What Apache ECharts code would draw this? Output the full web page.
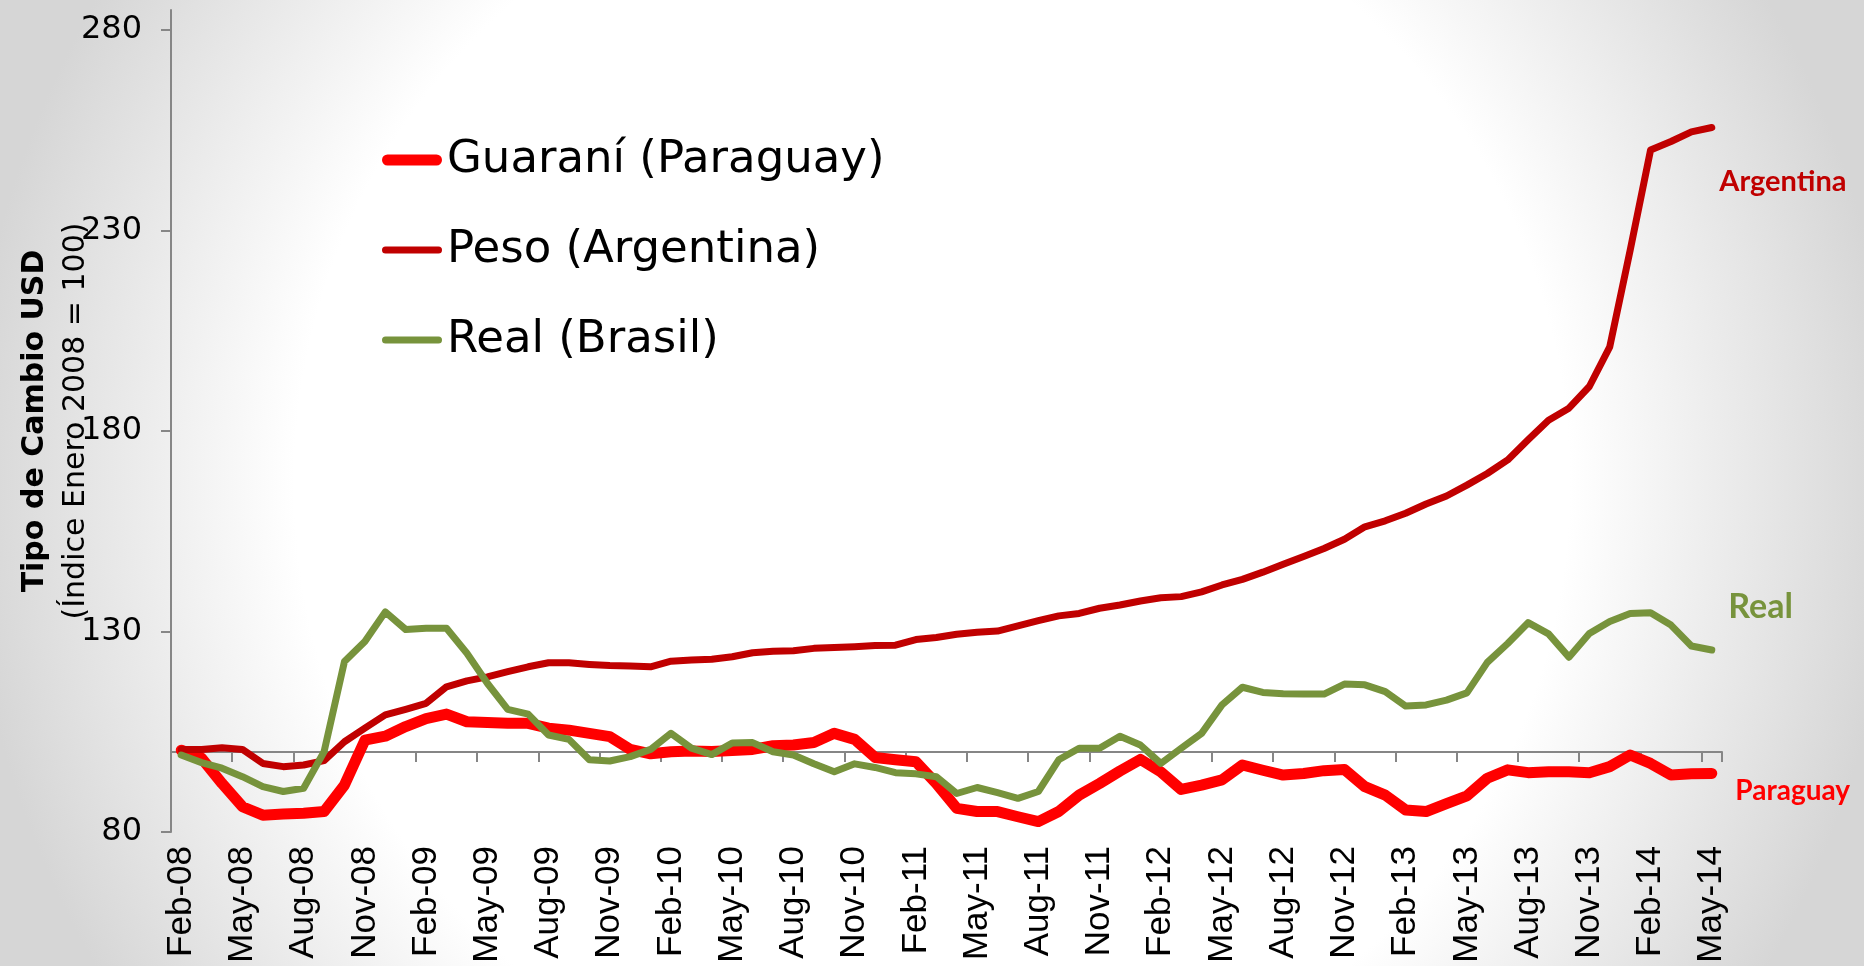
<!DOCTYPE html>
<html>
<head>
<meta charset="UTF-8">
<title>Tipo de Cambio USD</title>
<script src="https://cdn.jsdelivr.net/npm/echarts@6/dist/echarts.min.js"></script>
<style>
	* {
		margin: 0;
		padding: 0;
	}
	#main {
		width: 1864px;
		height: 966px;
	}
</style>
</head>
<body>
<div id="main"></div>
<script>
var meses = [
	'Feb-08', 'Mar-08', 'Apr-08', 'May-08', 'Jun-08', 'Jul-08', 'Aug-08', 'Sep-08', 'Oct-08', 'Nov-08', 'Dec-08',
	'Jan-09', 'Feb-09', 'Mar-09', 'Apr-09', 'May-09', 'Jun-09', 'Jul-09', 'Aug-09', 'Sep-09', 'Oct-09', 'Nov-09', 'Dec-09',
	'Jan-10', 'Feb-10', 'Mar-10', 'Apr-10', 'May-10', 'Jun-10', 'Jul-10', 'Aug-10', 'Sep-10', 'Oct-10', 'Nov-10', 'Dec-10',
	'Jan-11', 'Feb-11', 'Mar-11', 'Apr-11', 'May-11', 'Jun-11', 'Jul-11', 'Aug-11', 'Sep-11', 'Oct-11', 'Nov-11', 'Dec-11',
	'Jan-12', 'Feb-12', 'Mar-12', 'Apr-12', 'May-12', 'Jun-12', 'Jul-12', 'Aug-12', 'Sep-12', 'Oct-12', 'Nov-12', 'Dec-12',
	'Jan-13', 'Feb-13', 'Mar-13', 'Apr-13', 'May-13', 'Jun-13', 'Jul-13', 'Aug-13', 'Sep-13', 'Oct-13', 'Nov-13', 'Dec-13',
	'Jan-14', 'Feb-14', 'Mar-14', 'Apr-14', 'May-14'
];

// Guaraní (Paraguay)
var guarani = [
	100.4, 98.4, 92.1, 86.3, 84.2, 84.5, 84.7, 85.1, 91.7, 102.9, 103.9,
	106.3, 108.3, 109.4, 107.5, 107.3, 107.1, 107.1, 105.9, 105.4, 104.6, 103.8, 100.6,
	99.5, 100.0, 100.2, 100.1, 100.3, 100.6, 101.5, 101.7, 102.3, 104.6, 103.1, 98.6,
	98.0, 97.5, 92.1, 85.9, 85.1, 85.1, 83.8, 82.6, 85.1, 89.2, 92.1, 95.2,
	98.1, 95.0, 90.6, 91.7, 93.0, 96.7, 95.4, 94.2, 94.6, 95.3, 95.6, 91.3,
	89.2, 85.5, 85.1, 87.1, 89.0, 93.4, 95.5, 94.8, 95.0, 95.0, 94.8, 96.3,
	99.2, 97.1, 94.2, 94.5, 94.6
];

// Peso (Argentina)
var peso = [
	100.6, 100.6, 101.0, 100.6, 97.1, 96.3, 96.7, 97.8, 102.5, 105.9, 109.2,
	110.6, 112.1, 116.2, 117.7, 118.7, 120.0, 121.2, 122.2, 122.2, 121.8, 121.5, 121.4,
	121.2, 122.6, 122.9, 123.1, 123.7, 124.7, 125.1, 125.2, 125.8, 126.0, 126.2, 126.5,
	126.6, 128.0, 128.5, 129.3, 129.8, 130.1, 131.4, 132.7, 133.9, 134.5, 135.8, 136.6,
	137.6, 138.4, 138.7, 139.9, 141.6, 143.0, 144.8, 146.8, 148.7, 150.7, 153.0, 156.1,
	157.6, 159.5, 161.8, 163.8, 166.5, 169.4, 172.8, 177.8, 182.7, 185.7, 191.1, 201.0,
	225.1, 250.1, 252.2, 254.6, 255.7
];

// Real (Brasil)
var real = [
	99.2, 97.3, 95.9, 93.8, 91.3, 90.1, 90.9, 100.0, 122.5, 127.5, 134.9,
	130.5, 130.8, 130.8, 124.6, 117.1, 110.6, 109.4, 104.2, 103.1, 98.0, 97.7, 98.8,
	100.6, 104.6, 100.9, 99.3, 102.2, 102.3, 100.0, 99.2, 97.0, 95.0, 97.0, 96.1,
	94.8, 94.5, 93.8, 89.6, 91.1, 89.8, 88.4, 90.1, 98.0, 100.9, 100.9, 103.9,
	101.7, 97.1, 100.9, 104.6, 111.7, 116.1, 114.8, 114.5, 114.4, 114.4, 116.9, 116.7,
	115.0, 111.4, 111.7, 112.9, 114.7, 122.3, 127.0, 132.2, 129.4, 123.6, 129.5, 132.5,
	134.5, 134.7, 131.6, 126.4, 125.4
];

var yTicks = [80, 130, 180, 230, 280];
var nombres = ['Guaraní (Paraguay)', 'Peso (Argentina)', 'Real (Brasil)'];
var etiquetas = ['Paraguay', 'Argentina', 'Real'];
var colores = ['#FF0000', '#C00000', '#77933C'];

var iconGrueso = 'path://M5.5,0 L54.5,0 A5.5,5.5 0 0 1 54.5,11 L5.5,11 A5.5,5.5 0 0 1 5.5,0 Z';
var iconFino = 'path://M3.5,0 L56.5,0 A3.5,3.5 0 0 1 56.5,7 L3.5,7 A3.5,3.5 0 0 1 3.5,0 Z';
var gris = '#868686';

function etiquetaFinal(serie, idx, offset, size) {
	var last = serie.length - 1;
	return {
		symbol: 'circle',
		symbolSize: 1,
		silent: true,
		itemStyle: { color: 'transparent' },
		label: {
			show: true,
			position: 'right',
			distance: 0,
			offset: offset,
			formatter: etiquetas[idx],
			color: colores[idx],
			fontFamily: 'Lato',
			fontWeight: 'bold',
			fontSize: size
		},
		data: [{ coord: [meses[last], serie[last]] }]
	};
}

var myChart = echarts.init(document.getElementById('main'));

var option = {
	animation: false,
	backgroundColor: {
		type: 'radial',
		x: 0.5,
		y: 0.5,
		r: 1,
		colorStops: [
			{ offset: 0, color: '#ffffff' },
			{ offset: 0.66, color: '#ffffff' },
			{ offset: 1, color: '#d6d6d6' }
		]
	},
	grid: {
		left: 171,
		right: 142,
		top: 10,
		bottom: 134,
		containLabel: false,
		outerBoundsMode: 'none'
	},
	legend: {
		orient: 'vertical',
		left: 382,
		top: 135,
		padding: 0,
		itemGap: 40,
		itemWidth: 60,
		itemHeight: 11,
		selectedMode: false,
		itemStyle: { borderWidth: 0 },
		textStyle: {
			fontFamily: 'DejaVu Sans',
			fontSize: 45,
			lineHeight: 50,
			color: '#000'
		},
		data: [
			{ name: nombres[0], icon: iconGrueso },
			{ name: nombres[1], icon: iconFino },
			{ name: nombres[2], icon: iconFino }
		]
	},
	xAxis: [{
		type: 'category',
		data: meses,
		boundaryGap: true,
		axisLine: { show: false },
		axisTick: { show: false },
		splitLine: { show: false },
		axisLabel: {
			interval: 2,
			rotate: 90,
			margin: 14,
			fontFamily: 'Liberation Sans',
			fontSize: 35,
			color: '#000'
		}
	}, {
		type: 'category',
		data: meses,
		boundaryGap: true,
		position: 'bottom',
		offset: -80,
		axisLine: { show: true, onZero: false, lineStyle: { color: gris, width: 2 } },
		axisTick: { show: true, interval: 2, length: 10, lineStyle: { color: gris, width: 2 } },
		axisLabel: { show: false },
		splitLine: { show: false }
	}],
	yAxis: {
		type: 'value',
		min: 80,
		max: 285,
		interval: 50,
		axisLine: { show: true, onZero: false, lineStyle: { color: gris, width: 2 } },
		axisTick: { show: true, length: 10, customValues: yTicks, lineStyle: { color: gris, width: 2 } },
		splitLine: { show: false },
		axisLabel: {
			customValues: yTicks,
			margin: 29,
			fontFamily: 'DejaVu Sans',
			fontSize: 32,
			color: '#000'
		},
		name: '{b|Tipo de Cambio USD}\n{n|(Índice Enero 2008 = 100)}',
		nameLocation: 'middle',
		nameGap: 74,
		nameMoveOverlap: false,
		nameTextStyle: {
			align: 'center',
			rich: {
				b: { fontFamily: 'DejaVu Sans', fontWeight: 'bold', fontSize: 30, lineHeight: 41, color: '#000' },
				n: { fontFamily: 'DejaVu Sans', fontSize: 30, lineHeight: 41, color: '#000' }
			}
		}
	},
	series: [{
		name: nombres[0],
		type: 'line',
		data: guarani,
		symbol: 'none',
		color: colores[0],
		lineStyle: { color: colores[0], width: 11, cap: 'round', join: 'round' },
		markPoint: etiquetaFinal(guarani, 0, [23, 18], 28)
	}, {
		name: nombres[1],
		type: 'line',
		data: peso,
		symbol: 'none',
		color: colores[1],
		lineStyle: { color: colores[1], width: 7, cap: 'round', join: 'round' },
		markPoint: etiquetaFinal(peso, 1, [7, 54], 29)
	}, {
		name: nombres[2],
		type: 'line',
		data: real,
		symbol: 'none',
		color: colores[2],
		lineStyle: { color: colores[2], width: 7, cap: 'round', join: 'round' },
		markPoint: etiquetaFinal(real, 2, [16, -43], 34)
	}]
};

myChart.setOption(option);
</script>
</body>
</html>
